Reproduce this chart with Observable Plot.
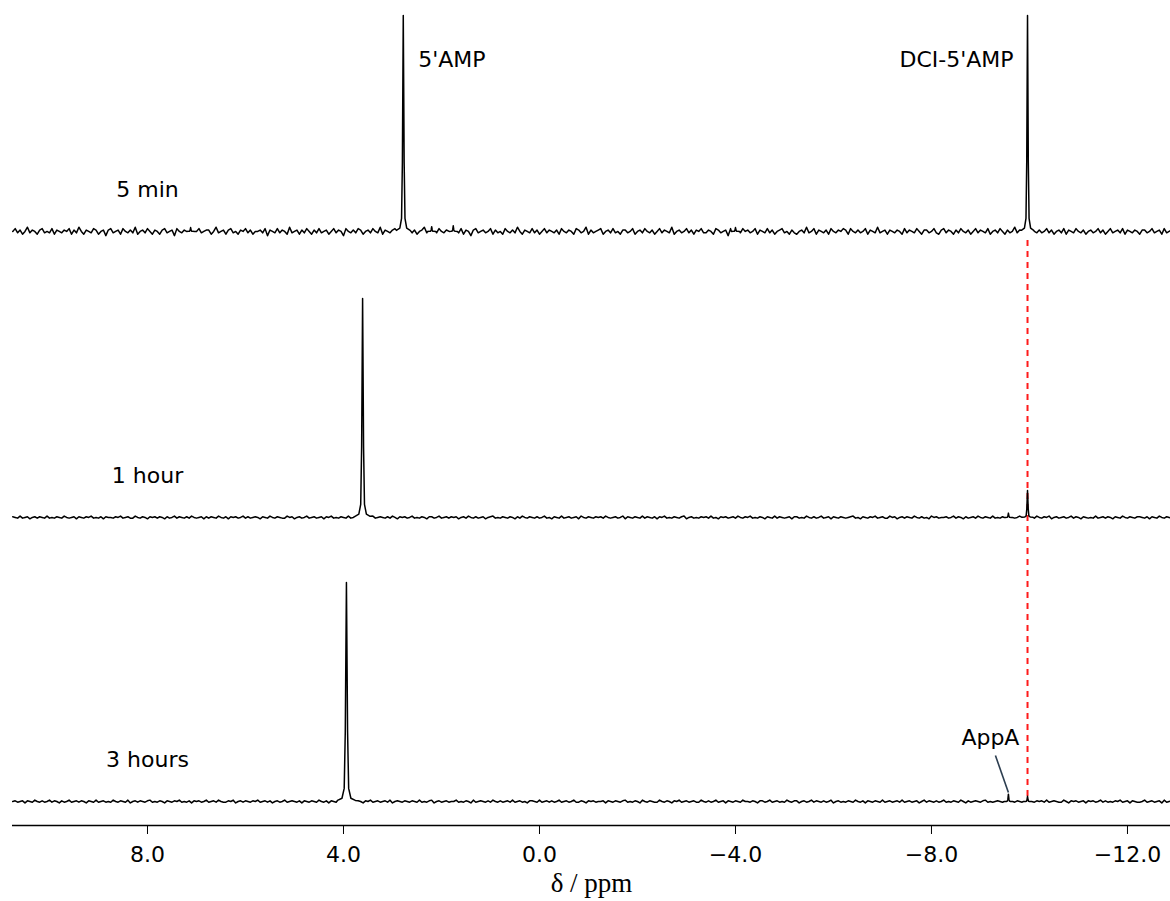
<!DOCTYPE html>
<html><head><meta charset="utf-8">
<script src="https://cdn.jsdelivr.net/npm/d3@7"></script>
<script src="https://cdn.jsdelivr.net/npm/@observablehq/plot@0.6"></script>
<style>body{margin:0;background:#fff;}</style>
</head><body><div id="chart"></div>
<script>
// ---- data ----
const spectra = ["5 min", "1 hour", "3 hours"];
const stackOffset = [275, 142.6, 11.1];      // vertical stacking of the traces (intensity units)
const noiseScale = [0.65, 0.32, 0.32];

// peaks: chemical shift (ppm), relative intensity, width factor
const peaks5min = [
  {ppm: 2.78, h: 100, w: 1.0},
  {ppm: -9.96, h: 100, w: 0.9},
  {ppm: 2.20, h: 2.2, w: 0.6},
  {ppm: 1.76, h: 2.6, w: 0.6},
  {ppm: 7.12, h: 1.8, w: 0.6},
  {ppm: -4.00, h: 1.8, w: 0.6}
];
const peaks1h = [
  {ppm: 3.61, h: 101.4, w: 1.1},
  {ppm: -9.96, h: 12.5, w: 0.8},
  {ppm: -9.57, h: 2.0, w: 0.6}
];
const peaks3h = [
  {ppm: 3.94, h: 101.4, w: 1.3},
  {ppm: -9.57, h: 3.4, w: 0.6},
  {ppm: -9.96, h: 2.4, w: 0.6}
];
const peakTable = [peaks5min, peaks1h, peaks3h];

// line-shape profile (offset in ppm, fraction of peak height)
const profileOffsets = [-0.14, -0.07, -0.035, -0.018, 0, 0.018, 0.035, 0.07, 0.14];
const profileHeights = [0.005, 0.015, 0.06, 0.32, 1, 0.32, 0.06, 0.015, 0.005];

// baseline noise, sampled every 0.05 ppm from 10.75 ppm towards high field
const noise5min = [
  0,2,-1,1,-2,0,3,-1,1,0,-2,1,2,-1,0,-1,2,-2,1,0,
  -1,1,0,2,-2,1,-1,3,0,-2,1,0,-1,2,1,-2,0,1,-3,1,
  2,-1,0,1,-2,2,0,-1,1,-1,3,-2,0,1,-1,2,0,-2,1,0,
  -2,1,2,-1,0,1,-3,2,0,-1,1,-2,2,1,-1,0,2,-1,0,1,
  1,-2,0,3,-1,0,1,-2,1,2,-1,0,-2,1,0,2,-1,1,-2,0,
  0,1,-1,2,-3,1,0,-1,2,-1,1,0,-2,3,-1,0,1,-2,1,-1,
  2,0,-2,1,-1,2,-1,0,1,-2,0,2,-1,1,0,-3,2,0,-1,1,
  -1,2,1,-2,0,1,-1,2,0,-1,3,-2,1,0,-1,1,2,-2,0,1,
  0,-1,2,-1,1,-2,0,1,3,-1,0,-2,1,-1,2,0,-1,1,-2,2,
  1,0,-1,2,-2,1,0,-3,1,2,-1,0,1,-1,0,2,-2,1,-1,0,
  -2,2,0,-1,1,-1,3,0,-2,1,0,-1,2,-1,1,-2,0,2,-1,1,
  0,-1,1,-2,2,0,-1,1,0,-2,2,1,-1,0,3,-2,1,-1,0,1,
  2,-2,0,1,-1,2,-1,0,-2,1,1,-1,0,2,-2,0,1,-1,2,0,
  -1,1,-2,0,2,-1,1,0,-1,3,-2,0,1,-1,0,2,-1,1,-2,1,
  0,2,-1,-1,1,0,-2,2,1,-1,0,1,-3,2,0,-1,1,-1,2,0,
  1,-1,0,2,-2,1,0,-1,2,-1,1,-2,0,1,2,-1,0,-2,1,-1,
  -2,0,1,-1,3,-1,0,2,-2,1,0,-1,1,-2,2,0,-1,1,0,2,
  1,-2,2,0,-1,1,-1,0,2,-2,1,0,-1,3,-1,0,1,-2,1,0,
  -1,1,0,-2,2,-1,1,0,-1,2,0,-2,1,1,-1,0,2,-1,-2,1,
  2,-1,1,0,-2,1,-1,2,0,-1,1,-2,0,2,-1,1,0,-1,2,-2,
  0,1,-1,2,0,-2,1,-1,0,3,-1,1,-2,0,1,-1,2,0,-1,1,
  -1,0,2,-1,1,-2,0,1,-1,2,-2,1,0,-1,2,0,-1,1,-2,0,
  1,-1,0,2,-1,1,-2,0,2,-1,0,1,-1,2,-2,1,0,-1,1,0,
  -2,1,1,-1,0,2,-1,0,1,-2,2,-1,0,1,-1,0,2,-1,1,0
];
const noise1h = [
  1,0,-1,2,-1,0,1,-2,0,1,-1,1,0,-1,2,-1,0,-1,1,0,
  -1,2,0,-1,0,1,-2,1,0,-1,1,0,2,-1,0,-1,1,-2,1,0,
  0,-1,1,0,2,-1,0,1,-1,-1,2,0,-1,1,0,-2,1,0,1,-1,
  1,0,-2,1,-1,0,2,-1,1,0,-1,1,-1,2,0,-1,0,1,-2,1,
  -1,1,0,-1,2,0,-1,1,-2,1,0,1,-1,0,2,-1,1,-1,0,1,
  0,-2,1,0,-1,2,0,-1,1,0,-1,-1,2,0,1,-2,0,1,-1,0,
  2,-1,0,1,-1,0,1,-2,1,0,2,-1,0,-1,1,0,-1,2,-1,0,
  -1,0,1,-1,1,-2,0,2,-1,0,1,0,-1,1,-1,2,0,-2,1,0,
  1,-1,0,2,-1,0,-1,1,0,-2,1,1,-1,0,2,-1,0,1,-1,1,
  0,1,-2,0,1,-1,2,0,-1,1,-1,0,1,-2,0,1,2,-1,0,-1,
  1,0,-1,1,0,-2,1,-1,2,0,-1,1,0,-1,1,-1,0,2,-1,0,
  -2,1,0,-1,2,-1,0,1,-1,0,1,-2,2,0,-1,1,0,-1,1,0,
  1,-1,2,0,-1,0,1,-1,0,2,-2,1,0,-1,1,0,-1,2,-1,1,
  0,-1,1,-2,1,0,2,-1,0,-1,1,0,-1,1,2,-2,0,1,-1,0,
  -1,1,0,1,-1,2,-1,0,-2,1,0,1,-1,0,1,-1,2,0,-1,1,
  0,2,-1,0,-1,1,0,-2,1,0,-1,2,-1,1,0,-1,0,1,-2,1,
  1,-1,0,-1,2,0,-1,1,-1,0,2,-1,0,1,-2,1,0,-1,1,0,
  -1,0,1,2,-1,0,-2,1,0,-1,1,0,2,-1,0,1,-1,-1,2,0,
  1,-2,0,1,-1,1,0,-1,2,0,-1,1,-1,0,-2,2,0,1,-1,0,
  0,1,-1,0,2,-1,1,0,-2,1,-1,0,1,-1,2,0,-1,1,0,-1,
  2,-1,0,-1,1,0,-2,1,1,-1,0,2,-1,0,1,-1,0,-1,2,0,
  -1,1,0,2,-2,0,1,-1,0,1,-1,0,2,-1,1,0,-2,1,0,-1,
  0,-1,2,-1,0,1,-1,1,0,-2,1,0,-1,2,0,-1,1,0,-1,1,
  1,0,-1,1,-2,1,0,-1,2,0,-1,1,0,-1,1,2,-1,0,-1,0
];
const noise3h = [
  0,1,-1,0,1,-2,1,0,-1,2,0,-1,1,-1,0,2,-1,1,0,-2,
  1,-1,0,2,-1,0,1,-1,1,0,-2,1,0,-1,2,-1,0,1,-1,0,
  -1,2,0,-1,1,0,-1,2,-2,0,1,-1,1,0,-1,1,2,-1,0,-1,
  1,0,-2,1,0,-1,1,0,2,-1,0,-1,1,-2,1,0,1,-1,0,2,
  -1,0,1,-1,2,0,-1,-1,1,0,2,-2,0,1,-1,1,0,-1,1,0,
  2,-1,0,1,-1,1,-2,0,1,-1,0,2,-1,0,1,0,-1,1,-2,1,
  0,-1,1,0,-1,2,0,-1,1,-2,1,0,-1,2,-1,0,1,-1,0,1,
  -1,1,0,-2,1,0,2,-1,0,1,-1,0,1,-1,2,-2,0,1,0,-1,
  1,0,-1,1,0,-1,2,-1,0,-1,1,2,-2,0,1,-1,0,1,-1,0,
  0,2,-1,0,-1,1,0,-2,2,-1,0,1,0,-1,1,-1,2,0,-1,1,
  -1,0,1,-1,2,-1,0,1,-1,0,-2,1,1,0,-1,2,-1,0,1,-1,
  1,-1,0,2,-1,0,1,-1,0,2,-1,-1,1,0,-2,1,0,1,-1,0,
  0,1,-2,1,0,-1,1,0,-1,1,2,-1,0,-1,1,0,-2,2,0,-1,
  1,0,-1,-1,2,0,-1,1,0,-2,1,0,2,-1,0,1,-1,0,1,-1,
  -1,2,0,-1,1,-1,0,2,-1,0,1,-2,1,0,-1,1,0,-1,2,0,
  0,-1,1,0,-2,1,1,-1,0,2,-1,0,1,-1,0,-1,2,0,-1,1,
  1,-2,0,1,-1,0,2,-1,1,0,-1,1,-1,0,2,-2,0,1,-1,0,
  -1,1,0,-1,2,0,-1,1,-2,1,0,-1,1,0,-1,2,-1,0,1,-1,
  0,1,-1,2,-1,0,1,-1,0,1,-2,0,2,-1,1,0,-1,1,-1,0,
  2,-1,0,-1,1,0,-1,2,0,-2,1,-1,0,1,0,-1,1,2,-1,0,
  -1,0,1,0,-1,2,-2,1,0,-1,1,0,-1,2,-1,0,1,-1,1,0,
  1,-1,2,-1,0,1,0,-1,-1,2,0,-2,1,0,1,-1,0,1,-2,1,
  0,1,-1,0,2,-1,1,-1,0,-1,1,0,2,-1,0,1,-2,1,0,-1,
  -1,0,2,-1,0,1,-1,0,1,-2,2,-1,0,1,-1,0,1,-1,2,0
];
const noiseTable = [noise5min, noise1h, noise3h];
const noiseStart = 10.75, noiseStep = 0.05;

const xTicks = [8, 4, 0, -4, -8, -12];
const amp = {text: "5'AMP", ppm: 2.78};
const dci = {text: "DCI-5'AMP", ppm: -9.96};
const appA = {text: "AppA", ppm: -9.57};
const dciShift = -9.96;

// ---- build traces ----
const rows = [];
spectra.forEach((name, i) => {
  const off = stackOffset[i];
  const pk = peakTable[i];
  const pts = [];
  noiseTable[i].forEach((v, j) => {
    const x = noiseStart - j * noiseStep;
    if (pk.some(p => Math.abs(x - p.ppm) < 0.15 * p.w)) return;
    pts.push({x, y: off + v * noiseScale[i]});
  });
  pk.forEach(p => profileOffsets.forEach((o, k) => {
    pts.push({x: p.ppm + o * p.w, y: off + p.h * profileHeights[k]});
  }));
  pts.sort((a, b) => b.x - a.x);
  pts.forEach(d => rows.push({x: d.x, y: d.y, spectrum: name}));
});

const labelRows = spectra.map((s, i) => ({s, y: stackOffset[i] + 19.4}));

const chart = Plot.plot({
  width: 1170,
  height: 901,
  marginLeft: 12,
  marginRight: 0,
  marginTop: 0,
  marginBottom: 76,
  style: {fontFamily: "'DejaVu Sans', Verdana, sans-serif", fontSize: "22px", color: "#000", background: "#fff"},
  x: {domain: [10.755, -12.878], ticks: xTicks, tickFormat: d3.format(".1f"), tickSize: 9, tickPadding: 12, label: null},
  y: {domain: [0, 381.9], axis: null},
  marks: [
    Plot.ruleX([dciShift], {y1: 270.8, y2: 11.6, stroke: "#ff1a1a", strokeWidth: 2, strokeDasharray: "6,5"}),
    Plot.line(rows, {x: "x", y: "y", z: "spectrum", stroke: "#000", strokeWidth: 1.5}),
    Plot.text(labelRows, {x: () => 8, y: "y", text: "s", fill: "#000", fontSize: 22}),
    Plot.text([amp], {x: "ppm", y: () => 354.2, text: "text", textAnchor: "start", dx: 15, fill: "#000", fontSize: 22}),
    Plot.text([dci], {x: "ppm", y: () => 354.2, text: "text", textAnchor: "end", dx: -14, fill: "#000", fontSize: 22}),
    Plot.text([appA], {x: "ppm", y: () => 40.7, text: "text", dx: -18, fill: "#000", fontSize: 22}),
    Plot.link([appA], {x1: (d) => d.ppm + 0.265, y1: () => 32.4, x2: "ppm", y2: () => 15.3, stroke: "#2c3e50", strokeWidth: 1.6}),
    Plot.ruleY([0], {stroke: "#000", strokeWidth: 1.5}),
    Plot.text(["δ / ppm"], {frameAnchor: "bottom", dy: 66, fontFamily: "'Liberation Serif', 'Times New Roman', serif", fontSize: 27, fill: "#000"})
  ]
});
document.getElementById("chart").appendChild(chart);
</script>
</body></html>
